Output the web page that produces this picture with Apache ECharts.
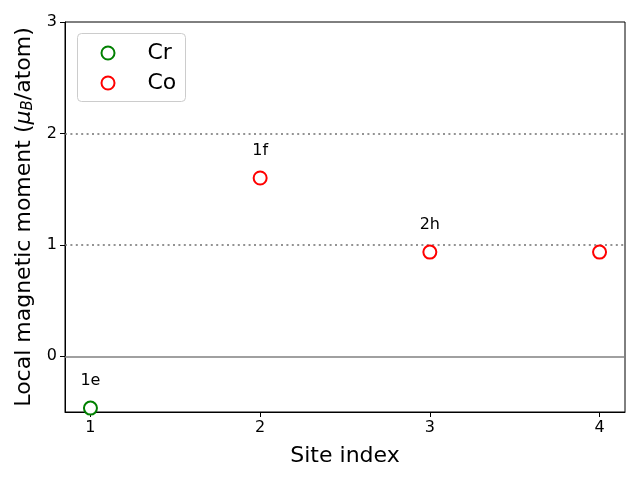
<!DOCTYPE html>
<html><head><meta charset="utf-8">
<script src="https://cdn.jsdelivr.net/npm/echarts@6/dist/echarts.min.js"></script>
<style>html,body{margin:0;padding:0;background:#fff}#c{width:640px;height:480px}</style>
</head><body><div id="c"></div>
<script>
const siteIndex = [1, 2, 3, 4];
const elements = ['Cr', 'Co', 'Co', 'Co'];
const moments = [-0.465, 1.6, 0.935, 0.935];
const siteLabels = ['1e', '1f', '2h', ''];
const xTicks = [1, 2, 3, 4];
const yTicks = [0, 1, 2, 3];
const refLinesDotted = [1, 2];
const refLineSolid = [0];
const colors = { Cr: '#008000', Co: '#ff0000' };
const FONT = 'DejaVu Sans';

const chart = echarts.init(document.getElementById('c'), null, { renderer: 'canvas' });

function seriesFor(el) {
  const data = [];
  siteIndex.forEach((x, i) => {
    if (elements[i] === el) {
      data.push({
        value: [x, moments[i]],
        label: { show: siteLabels[i] !== '', formatter: siteLabels[i] }
      });
    }
  });
  return {
    name: el, type: 'scatter', symbol: 'emptyCircle', symbolSize: 13,
    itemStyle: { color: colors[el], borderColor: colors[el], borderWidth: 1.2, opacity: 1 },
    label: { position: 'inside', offset: [0, -27], color: '#000', fontSize: 16, fontFamily: FONT },
    emphasis: { disabled: true },
    clip: false, z: 5,
    data
  };
}

const lineSeries = {
  type: 'scatter', data: [], silent: true,
  markLine: {
    symbol: 'none', silent: true, animation: false, label: { show: false },
    data: refLineSolid.map(v => ({ yAxis: v, lineStyle: { color: '#808080', width: 1.5, type: 'solid', opacity: 1 } }))
      .concat(refLinesDotted.map(v => ({ yAxis: v, lineStyle: { color: '#707070', width: 1.6, type: [2, 3.4], opacity: 1 } })))
  }
};

chart.setOption({
  animation: false,
  backgroundColor: '#fff',
  textStyle: { fontFamily: FONT },
  grid: { left: 65, right: 15, top: 22, bottom: 68, show: true, borderColor: '#000', borderWidth: 1 },
  legend: {
    orient: 'vertical', left: 100.5, top: 42, padding: 0,
    itemWidth: 13, itemHeight: 13, itemGap: 8,
    textStyle: { fontSize: 22, lineHeight: 22, color: '#000', fontFamily: FONT, padding: [0, 0, 0, 28] },
    data: ['Cr', 'Co']
  },
  graphic: [{
    type: 'rect', left: 77, top: 33, z: 0,
    shape: { width: 108, height: 68, r: 4 },
    style: { fill: '#fff', stroke: '#cccccc', lineWidth: 1 }
  }],
  xAxis: {
    type: 'value', min: 0.85, max: 4.15,
    name: 'Site index', nameLocation: 'middle', nameGap: 33,
    nameTextStyle: { fontSize: 22, color: '#000', fontFamily: FONT },
    axisLine: { show: true, onZero: false, lineStyle: { color: '#000' } },
    axisTick: { show: true, length: 5, customValues: xTicks, lineStyle: { color: '#000' } },
    axisLabel: { customValues: xTicks, fontSize: 16, color: '#000', margin: 8, fontFamily: FONT },
    splitLine: { show: false }
  },
  yAxis: {
    type: 'value', min: -0.5, max: 3,
    name: '{t|Local magnetic moment (}{i|μ}{s|B}{t|/atom)}',
    nameLocation: 'middle', nameGap: 26, nameRotate: 90,
    nameTextStyle: {
      color: '#000', fontFamily: FONT,
      rich: {
        t: { fontSize: 22, fontFamily: FONT, color: '#000' },
        i: { fontSize: 22, fontStyle: 'italic', fontFamily: FONT, color: '#000' },
        s: { fontSize: 15, fontStyle: 'italic', fontFamily: FONT, color: '#000', verticalAlign: 'bottom', padding: [8, 0, 0, 0] }
      }
    },
    axisLine: { show: true, onZero: false, lineStyle: { color: '#000' } },
    axisTick: { show: true, length: 5, customValues: yTicks, lineStyle: { color: '#000' } },
    axisLabel: { customValues: yTicks, fontSize: 16, color: '#000', margin: 8, fontFamily: FONT },
    splitLine: { show: false }
  },
  series: [seriesFor('Cr'), seriesFor('Co'), lineSeries]
});
</script></body></html>
